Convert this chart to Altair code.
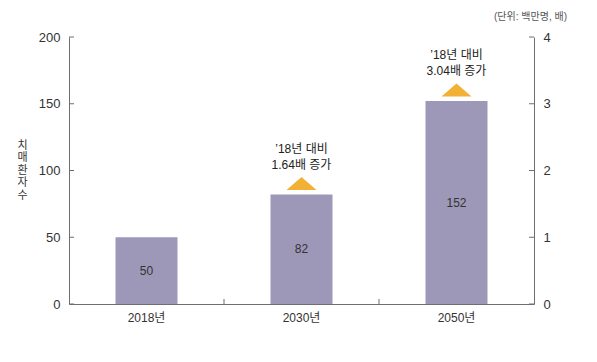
import altair as alt
import pandas as pd

years = ["2018년", "2030년", "2050년"]
patients = [50, 82, 152]
ratios = [1.0, 1.64, 3.04]
note_line1 = ["", "’18년 대비", "’18년 대비"]
note_line2 = ["", "1.64배 증가", "3.04배 증가"]
tick_years = ["2018년", "2030년"]
left_ticks = [0, 50, 100, 150, 200]
right_ticks = [0, 1, 2, 3, 4]

df = pd.DataFrame({"year": years, "patients": patients, "ratio": ratios,
                   "l1": note_line1, "l2": note_line2})
df_note = df[df["l1"] != ""]
df_ticks = pd.DataFrame({"year": tick_years})
df_lt = pd.DataFrame({"patients": left_ticks})
df_rt = pd.DataFrame({"r": right_ticks})

FONT = "Liberation Sans, Noto Sans CJK KR, sans-serif"
AX = "#6e6e6e"
W, H = 465, 267

xscale = alt.Scale(domain=years, paddingInner=0, paddingOuter=0)
yscale = alt.Scale(domain=[0, 200])

XAXIS = alt.Axis(title=None, labelAngle=0, ticks=False, domain=True,
                 labelPadding=8, labelFontSize=12, labelColor="#333",
                 labelFont=FONT, domainColor=AX)
YAXIS = alt.Axis(values=left_ticks, ticks=False,
                 domainColor=AX, grid=False, labelPadding=9,
                 labelFontSize=13, labelColor="#333", labelFont=FONT,
                 title=["치", "매", "환", "자", "수"], titleAngle=0,
                 titleAlign="center", titleBaseline="middle",
                 titleX=-47, titleY=108, titleFontSize=11,
                 titleFontWeight="normal", titleLineHeight=12.5,
                 titleColor="#333", titleFont=FONT)

X = alt.X("year:N", scale=xscale, sort=years, axis=XAXIS)
Y = alt.Y("patients:Q", scale=yscale, axis=YAXIS)

bars = alt.Chart(df).mark_bar(width=62, color="#9e98b8").encode(x=X, y=Y)

labels = alt.Chart(df).transform_calculate(half="datum.patients / 2").mark_text(
    fontSize=12, color="#333", font=FONT, baseline="middle"
).encode(
    x=X,
    y=alt.Y("half:Q", scale=yscale, axis=YAXIS),
    text="patients:Q",
)

tri_path = "M-1,-0.3 L1,-0.3 L0,-1.17 Z"
tris = alt.Chart(df_note).mark_point(
    shape=tri_path, size=900, filled=True, opacity=1, color="#f2b035", strokeWidth=0
).encode(x=X, y=Y)

line1 = alt.Chart(df_note).mark_text(
    fontSize=12, color="#222", font=FONT, baseline="middle", dy=-46
).encode(x=X, y=Y, text="l1:N")

line2 = alt.Chart(df_note).mark_text(
    fontSize=12, color="#222", font=FONT, baseline="middle", dy=-30
).encode(x=X, y=Y, text="l2:N")

xticks = alt.Chart(df_ticks).mark_rule(color=AX, strokeWidth=1).encode(
    x=alt.X("year:N", scale=xscale, sort=years, bandPosition=1, axis=XAXIS),
    y=alt.value(H),
    y2=alt.value(H - 5),
)

lticks = alt.Chart(df_lt).mark_rule(color=AX, strokeWidth=1).encode(
    y=Y,
    x=alt.value(0),
    x2=alt.value(5),
)

left = alt.layer(bars, labels, tris, line1, line2, xticks, lticks)

right = alt.Chart(df_rt).mark_rule(color=AX, strokeWidth=1).encode(
    y=alt.Y("r:Q", scale=alt.Scale(domain=[0, 4]),
            axis=alt.Axis(orient="right", values=right_ticks, ticks=False,
                          domainColor=AX, grid=False, labelPadding=9,
                          labelFontSize=13, labelColor="#333", labelFont=FONT,
                          title=None)),
    x=alt.value(W - 5),
    x2=alt.value(W),
)

chart = alt.layer(left, right).resolve_scale(y="independent").properties(
    width=W, height=H,
    autosize=alt.AutoSizeParams(type="none"),
    padding={"left": 61, "top": 29, "right": 50, "bottom": 40},
    title=alt.TitleParams("(단위: 백만명, 배)", anchor="end", frame="group",
                          fontSize=10, fontWeight="normal", color="#555",
                          font=FONT, dx=33, offset=9),
).configure_view(stroke=None)

chart.save("out.html", embed_options={"renderer": "svg", "actions": False})
